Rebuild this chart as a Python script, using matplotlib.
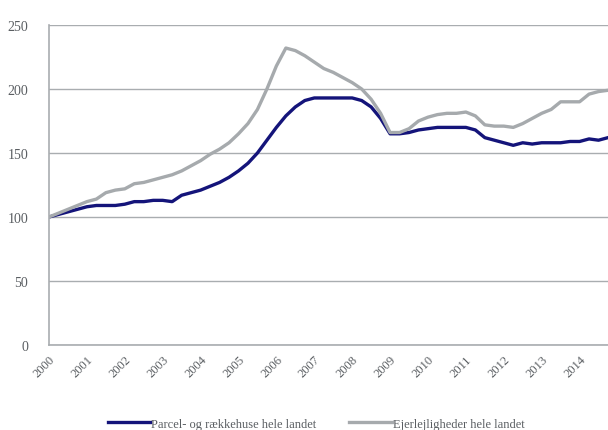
import matplotlib.pyplot as plt

plt.rcParams['font.family'] = ['Liberation Serif', 'DejaVu Serif']

# kvartalsvise indeks (2000K1 = 100)
years = list(range(2000, 2015))
parcel = [100, 102, 104, 106,
          108, 109, 109, 109,
          110, 112, 112, 113,
          113, 112, 117, 119,
          121, 124, 127, 131,
          136, 142, 150, 160,
          170, 179, 186, 191,
          193, 193, 193, 193,
          193, 191, 186, 177,
          165, 165, 166, 168,
          169, 170, 170, 170,
          170, 168, 162, 160,
          158, 156, 158, 157,
          158, 158, 158, 159,
          159, 161, 160, 162]
ejer = [100, 103, 106, 109,
        112, 114, 119, 121,
        122, 126, 127, 129,
        131, 133, 136, 140,
        144, 149, 153, 158,
        165, 173, 184, 200,
        218, 232, 230, 226,
        221, 216, 213, 209,
        205, 200, 192, 181,
        166, 166, 169, 175,
        178, 180, 181, 181,
        182, 179, 172, 171,
        171, 170, 173, 177,
        181, 184, 190, 190,
        190, 196, 198, 199]

labels = ["Parcel- og rækkehuse hele landet", "Ejerlejligheder hele landet"]

txt = '#5a5e62'
grid = '#a9adb0'

x = list(range(len(parcel)))

fig = plt.figure(figsize=(6.08, 4.31), dpi=100)
ax = fig.add_axes([49 / 608, 85 / 431, 1 - 49 / 608, 320 / 431])

ax.plot(x, parcel, color='#14147a', linewidth=2.4, label=labels[0])
ax.plot(x, ejer, color='#a6aaad', linewidth=2.4, label=labels[1])

ax.set_xlim(0, len(parcel) - 1)
ax.set_ylim(0, 250)
ax.set_yticks(range(0, 251, 50))
ax.set_xticks([i * 4 for i in range(len(years))])
ax.set_xticklabels([str(y) for y in years], rotation=45, ha='right',
                   rotation_mode='anchor', fontsize=9, color=txt)
ax.tick_params(axis='y', labelsize=10, labelcolor=txt, length=0, pad=15)
ax.tick_params(axis='x', length=0, pad=6)
ax.grid(axis='y', color=grid, linewidth=1)
ax.set_axisbelow(True)
for s in ['top', 'right']:
    ax.spines[s].set_visible(False)
for s in ['left', 'bottom']:
    ax.spines[s].set_color(grid)
    ax.spines[s].set_linewidth(1.2)

leg = fig.legend(loc='lower center', bbox_to_anchor=(0.52, -0.025), ncol=2,
                 frameon=False, fontsize=9, handlelength=3.4, handletextpad=0.1,
                 columnspacing=2.6)
for t in leg.get_texts():
    t.set_color(txt)

fig.savefig('out.png', dpi=100)
